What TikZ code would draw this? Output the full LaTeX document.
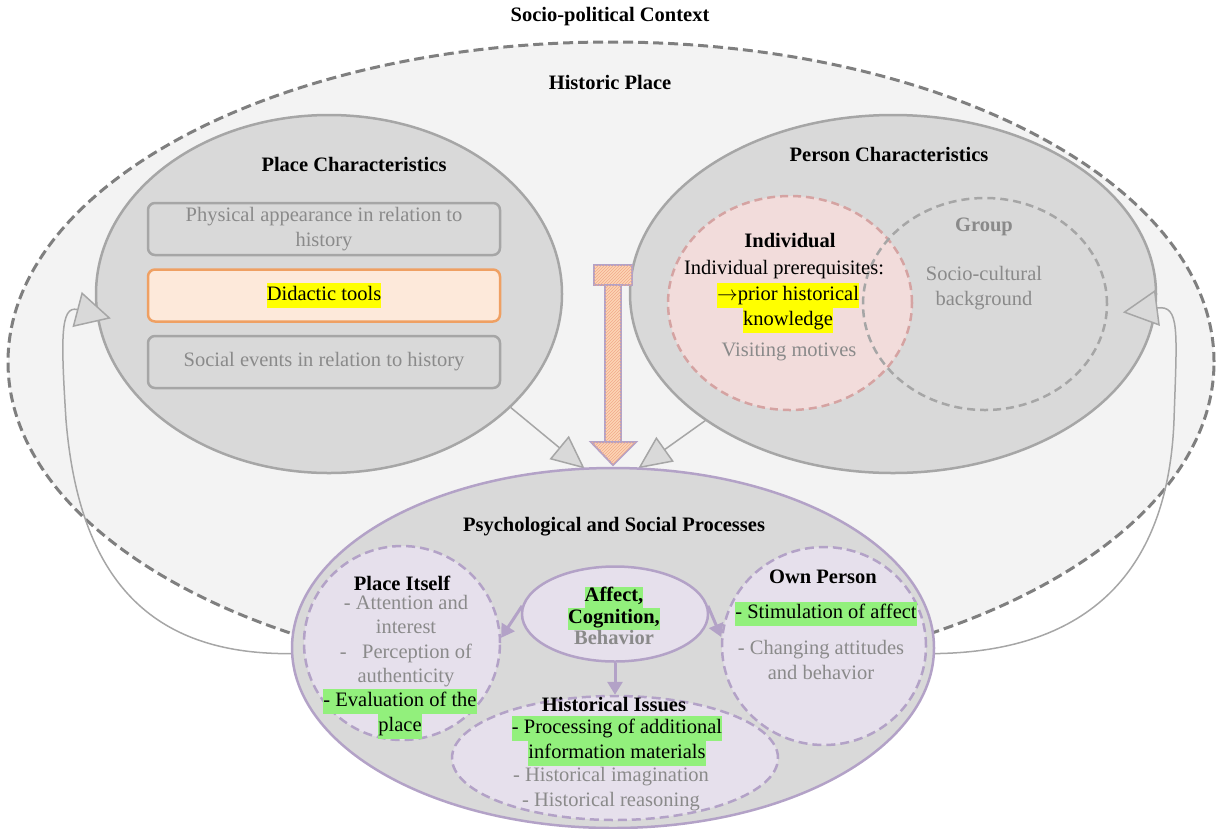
\documentclass[tikz,border=0pt]{standalone}
\usepackage{fontspec}
\setmainfont{Liberation Serif}
\usetikzlibrary{shapes.geometric,arrows.meta,patterns,positioning}

\definecolor{ctxgray}{HTML}{7F7F7F}
\definecolor{placefill}{HTML}{F3F3F3}
\definecolor{charfill}{HTML}{D9D9D9}
\definecolor{charline}{HTML}{A6A6A6}
\definecolor{txtgray}{HTML}{8A8A8A}
\definecolor{didfill}{HTML}{FDE9DA}
\definecolor{didline}{HTML}{EFA063}
\definecolor{indfill}{HTML}{F2DCDB}
\definecolor{indline}{HTML}{D5A3A2}
\definecolor{procline}{HTML}{B3A2C7}
\definecolor{procfill}{HTML}{E6E0EC}
\definecolor{hlyellow}{HTML}{FFFF00}
\definecolor{hlgreen}{HTML}{92F07C}
\definecolor{hatchfill}{HTML}{FCD5B5}
\definecolor{hatchline}{HTML}{F2A98A}

\newcommand{\figfont}{\fontsize{20.5}{24.6}\selectfont}
\newcommand{\hlY}[1]{{\setlength{\fboxsep}{0pt}\colorbox{hlyellow}{\strut #1}}}
\newcommand{\hlG}[1]{{\setlength{\fboxsep}{0pt}\colorbox{hlgreen}{\strut #1}}}

\tikzset{
  region/.style={ellipse,inner sep=0pt},
  charell/.style={region,draw=charline,fill=charfill,line width=2.5pt},
  subell/.style={region,draw=procline,fill=procfill,line width=2.5pt,dash pattern=on 9pt off 5pt},
  pbox/.style={rectangle,rounded corners=7pt,draw=charline,line width=2.5pt,
    minimum width=352pt,minimum height=52pt,inner sep=0pt},
  title/.style={font=\figfont\bfseries},
  gtext/.style={text=txtgray},
  hatched/.style={draw=procline,line width=2pt,fill=hatchfill,
    postaction={pattern=north east lines,pattern color=hatchline}},
  grayarrow/.style={-{Triangle[length=33pt,width=30pt,fill=charfill]},color=charline,line width=1.5pt},
  fbarrow/.style={-{Triangle[length=35pt,width=36pt,fill=charfill]},color=charline,line width=1.5pt},
  procarrow/.style={-{Triangle[length=13pt,width=15pt]},color=procline,line width=3pt}
}

\begin{document}
\begin{tikzpicture}[x=1pt,y=-1pt,font=\figfont,align=center]
        \useasboundingbox (0,0) rectangle (1217,828);

        \node[region,draw=ctxgray,fill=placefill,line width=3pt,dash pattern=on 10pt off 5pt,
              minimum width=1206pt,minimum height=640pt] (hist) at (611,362) {};
        \node[title] (ctxtitle) at (610,17) {Socio-political Context};
        \node[title] (histtitle) at (610,82) {Historic Place};

        % characteristics
        \node[charell,minimum width=466pt,minimum height=358pt] (place) at (329,294) {};
        \node[charell,minimum width=526pt,minimum height=358pt] (person) at (893,294) {};
        \node[title] (placetitle) at (354,164) {Place Characteristics};
        \node[title] (persontitle) at (889,154) {Person Characteristics};

        \node[pbox,text=txtgray] (phys) at (324,229) {Physical appearance in relation to\\history};
        \node[pbox,draw=didline,fill=didfill] (didac) [below=12pt of phys] {\hlY{Didactic tools}};
        \node[pbox,text=txtgray] (social) [below=12pt of didac] {Social events in relation to history};

        \node[region,draw=indline,fill=indfill,line width=2.5pt,dash pattern=on 8pt off 5pt,
              minimum width=244pt,minimum height=214pt] (indiv) at (790,303) {};
        \node[region,draw=charline,line width=2.5pt,dash pattern=on 8pt off 5pt,
              minimum width=244pt,minimum height=212pt] (group) at (985,304) {};
        \node[title] (indivtitle) at (790,241) {Individual};
        \node (prereq) at (784,270) {Individual prerequisites:};
        \node (prior) at (788,308) {\hlY{$\rightarrow$prior historical}\\\hlY{knowledge}};
        \node[gtext] (motives) at (789,352) {Visiting motives};
        \node[title,text=txtgray] (grouptitle) at (984,227) {Group};
        \node[gtext] (socio) at (984,288) {Socio-cultural\\background};

        % influence arrows
        \path[hatched] (594,265) rectangle (632,285);
        \path[hatched] (605,285) rectangle (621,442);
        \path[hatched] (591,442) -- (636,442) -- (613,465) -- cycle;

        \node[region,minimum width=642pt,minimum height=360pt] (proc) at (613,648) {};
        \path[grayarrow] (place.-32) edge (proc.99)
                         (person.214) edge (proc.82);
        \draw[fbarrow] (proc.181) .. controls (160,655) and (80,590) .. (66,420)
                       .. controls (61,340) and (60,305) .. ([xshift=14pt]place.186);
        \draw[fbarrow] (proc.-1) .. controls (1080,652) and (1168,580) .. (1174,420)
                       .. controls (1177,330) and (1180,305) .. ([xshift=-33pt]person.-4);

        % processes
        \node[region,draw=procline,fill=charfill,line width=2.5pt,
              minimum width=642pt,minimum height=360pt] at (proc) {};
        \node[title] (proctitle) at (614,527) {Psychological and Social Processes};

        \node[subell,minimum width=196pt,minimum height=194pt] (itself) at (402,643) {};
        \node[subell,minimum width=204pt,minimum height=198pt] (own) at (824,646) {};
        \node[subell,minimum width=326pt,minimum height=124pt] (issues) at (615,758) {};
        \node[region,draw=procline,fill=procfill,line width=2.5pt,
              minimum width=186pt,minimum height=95pt] (core) at (615,614) {};

        \node[title] (itselftitle) at (402,583) {Place Itself};
        \node[gtext] (attention) at (406,641) {- Attention and\\interest\\-~~~Perception of\\authenticity};
        \node (evaluation) at (400,714) {\hlG{- Evaluation of the}\\\hlG{place}};
        \node[font=\fontsize{20.5}{21.5}\selectfont\bfseries] (coretext) at (614,616)
             {\hlG{Affect,}\\\hlG{Cognition,}\\\textcolor{txtgray}{Behavior}};
        \node[title] (owntitle) at (823,577) {Own Person};
        \node (stimulation) at (826,614) {\hlG{- Stimulation of affect}};
        \node[gtext] (attitudes) at (821,660) {- Changing attitudes\\and behavior};
        \node[title] (issuestitle) at (614,704) {Historical Issues};
        \node (processing) at (617,741) {\hlG{- Processing of additional}\\\hlG{information materials}};
        \node[gtext] (imagination) at (611,789) {- Historical imagination\\- Historical reasoning};

        \path[procarrow] (core.175) edge (itself.3)
                         (core.5) edge (own.175)
                         (core) edge (issues);
    \end{tikzpicture}
\end{document}
